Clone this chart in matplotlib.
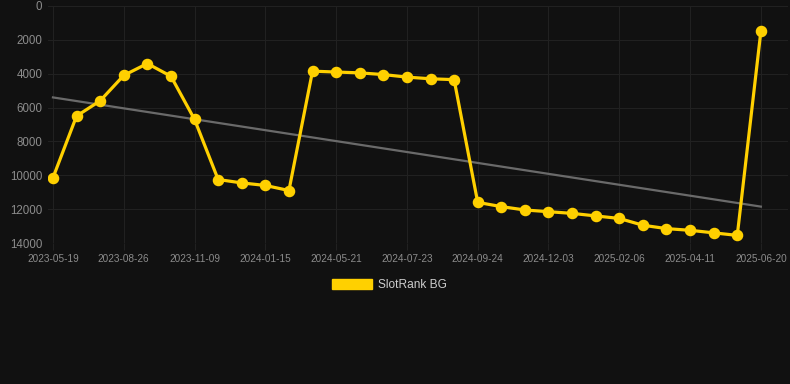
import numpy as np
import matplotlib
matplotlib.use("Agg")
import matplotlib.pyplot as plt
from matplotlib.patches import Patch

plt.rcParams['font.family'] = ['Liberation Sans', 'DejaVu Sans']

# ------------------------------
# Data (rank, lower is better -> inverted axis)
# ------------------------------
tick_labels = ['2023-05-19', '2023-08-26', '2023-11-09', '2024-01-15', '2024-05-21',
               '2024-07-23', '2024-09-24', '2024-12-03', '2025-02-06', '2025-04-11',
               '2025-06-20']
rank = [10150, 6500, 5600, 4100, 3400, 4150, 6700, 10250, 10450, 10600,
        10900, 3850, 3900, 3950, 4050, 4200, 4300, 4350, 11600, 11850,
        12050, 12150, 12250, 12400, 12550, 12950, 13150, 13250, 13400, 13550,
        1500]
trend_ends = [5400, 11850]  # trend line at first and last point
series_name = 'SlotRank BG'

bg = '#111111'
yellow = '#FFD000'
grid_c = '#212121'
txt_c = '#8c8c8c'

x = np.arange(len(rank))

fig = plt.figure(figsize=(7.9, 3.84), dpi=100, facecolor=bg)
ax = fig.add_axes([48 / 790, 1 - 243 / 384, 740 / 790, 237 / 384])
ax.set_facecolor(bg)

ax.plot(x[[0, -1]], trend_ends, color='#6a6a6a', lw=1.6, zorder=2)
ax.plot(x, rank, color=yellow, lw=2.3, marker='o', ms=7.3, zorder=3)

ax.set_ylim(14000, 0)
ax.set_xlim(-0.21, 31.15)
ax.set_yticks(np.arange(0, 14001, 2000))
ax.set_xticks(x[::3])
ax.set_xticklabels(tick_labels)

ax.grid(True, color=grid_c, lw=0.8)
for s in ax.spines.values():
    s.set_visible(False)
ax.tick_params(axis='x', colors=grid_c, labelcolor=txt_c, labelsize=7.2, length=5, pad=3)
ax.tick_params(axis='y', length=0, labelcolor=txt_c, labelsize=8.3, pad=4)

fig.legend(handles=[Patch(facecolor=yellow, edgecolor=yellow)], labels=[series_name],
           loc='center', bbox_to_anchor=(389.5 / 790, 1 - 285 / 384), frameon=False,
           fontsize=8.6, labelcolor='#cccccc', handlelength=3.3, handleheight=1.0,
           handletextpad=0.5)

fig.savefig('out.png', dpi=100, facecolor=bg)
